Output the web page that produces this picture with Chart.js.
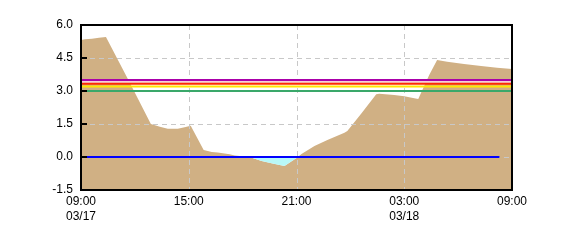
<!DOCTYPE html>
<html>
<head>
<meta charset="utf-8">
<script src="https://cdn.jsdelivr.net/npm/chart.js@4.4.1/dist/chart.umd.min.js"></script>
<style>
  html, body { margin: 0; padding: 0; background: #fff; }
  #wrap { width: 570px; height: 250px; }
</style>
</head>
<body>
<div id="wrap"><canvas id="myChart" width="570" height="250"></canvas></div>
<script>
// hours since 09:00 on 03/17
const hours = [0, 0.22, 0.61, 1.0, 1.39, 2.61, 3.89, 4.39, 4.83, 5.39, 5.83, 6.11, 6.83, 7.28, 7.61, 8.28, 8.56, 9.39, 10.06, 10.67, 11.33, 12.0, 12.28, 13.0, 13.72, 14.67, 14.83, 15.61, 16.44, 16.61, 17.44, 18.0, 18.56, 18.78, 19.39, 19.83, 20.39, 21.33, 22.28, 23.17, 24];
const levels = [5.32, 5.35, 5.37, 5.42, 5.45, 3.55, 1.5, 1.38, 1.28, 1.28, 1.36, 1.42, 0.32, 0.23, 0.2, 0.12, 0.07, 0.0, -0.18, -0.29, -0.41, -0.05, 0.14, 0.5, 0.77, 1.1, 1.18, 1.98, 2.85, 2.88, 2.82, 2.76, 2.67, 2.64, 3.73, 4.41, 4.33, 4.23, 4.14, 4.06, 4.0];

// warning levels (top to bottom)
const levelNames = ['purple', 'pink', 'red', 'yellow', 'green'];
const levelValues = [3.5, 3.41, 3.33, 3.2, 3.0];
const levelColors = ['#aa00aa', '#f2d2d6', '#ff2a00', '#ffe600', '#3aa86a'];

// reference (zero) line
const baseHours = [0, 23.3];
const baseValue = 0;

const xTickTimes = ['09:00', '15:00', '21:00', '03:00', '09:00'];
const xTickDates = ['03/17', '', '', '03/18', ''];
const yTicks = [-1.5, 0, 1.5, 3.0, 4.5, 6.0];

const series = hours.map((h, i) => ({ x: h, y: levels[i] }));

const datasets = [
  {
    label: 'level',
    data: series,
    borderWidth: 0,
    pointRadius: 0,
    fill: 'start',
    backgroundColor: '#d0b084',
    order: 20
  },
  {
    label: 'below zero',
    data: series,
    borderWidth: 0,
    pointRadius: 0,
    fill: { target: { value: 0 }, above: 'rgba(0,0,0,0)', below: '#b8f8f8' },
    order: 19,
    gridAfter: true
  }
];

levelNames.forEach((name, i) => {
  datasets.push({
    label: name,
    data: [{ x: 0, y: levelValues[i] }, { x: 24, y: levelValues[i] }],
    borderColor: levelColors[i],
    borderWidth: 2,
    pointRadius: 0,
    fill: false,
    order: 10 - i
  });
});

datasets.push({
  label: 'zero',
  data: baseHours.map(h => ({ x: h, y: baseValue })),
  borderColor: '#0000ff',
  borderWidth: 2,
  pointRadius: 0,
  fill: false,
  order: 0
});

// dashed grid on top of the area, under the level lines
const gridOverArea = {
  id: 'gridOverArea',
  afterDatasetDraw(chart, args) {
    if (!chart.data.datasets[args.index].gridAfter) return;
    const { ctx, chartArea: a, scales } = chart;
    ctx.save();
    ctx.strokeStyle = '#c8c8c8';
    ctx.lineWidth = 1;
    ctx.setLineDash([5, 4]);
    [6, 12, 18].forEach(h => {
      const x = Math.round(scales.x.getPixelForValue(h)) + 0.5;
      ctx.beginPath();
      ctx.moveTo(x, a.top);
      ctx.lineTo(x, a.bottom);
      ctx.stroke();
    });
    yTicks.slice(1, -1).forEach(v => {
      const y = Math.round(scales.y.getPixelForValue(v)) + 0.5;
      ctx.beginPath();
      ctx.moveTo(a.left, y);
      ctx.lineTo(a.right, y);
      ctx.stroke();
    });
    ctx.restore();
  }
};

// black frame and inner tick marks
const frame = {
  id: 'frame',
  afterDraw(chart) {
    const { ctx, chartArea: a, scales } = chart;
    ctx.save();
    ctx.strokeStyle = '#000';
    ctx.lineWidth = 2;
    ctx.setLineDash([]);
    ctx.strokeRect(a.left, a.top, a.right - a.left, a.bottom - a.top);
    yTicks.slice(1, -1).forEach(v => {
      const y = scales.y.getPixelForValue(v);
      ctx.beginPath();
      ctx.moveTo(a.left, y);
      ctx.lineTo(a.left + 6, y);
      ctx.stroke();
    });
    ctx.restore();
  }
};

Chart.defaults.font.family = '"Liberation Sans", Arial, sans-serif';
Chart.defaults.font.size = 11;
Chart.defaults.color = '#000';

new Chart(document.getElementById('myChart').getContext('2d'), {
  type: 'line',
  data: { datasets: datasets },
  options: {
    responsive: false,
    animation: false,
    layout: { padding: { left: 0, right: 58, top: 25, bottom: 0 } },
    plugins: {
      legend: { display: false },
      tooltip: { enabled: false }
    },
    scales: {
      x: {
        type: 'linear',
        min: 0,
        max: 24,
        grid: { display: false, drawTicks: false },
        border: { display: false },
        ticks: {
          stepSize: 6,
          padding: 4,
          maxRotation: 0,
          font: { size: 12, lineHeight: 1.25 },
          callback: (v) => {
            const i = v / 6;
            return xTickDates[i] ? [xTickTimes[i], xTickDates[i]] : xTickTimes[i];
          }
        },
        afterFit: (s) => { s.height = 60; }
      },
      y: {
        min: -1.5,
        max: 6,
        grid: { display: false, drawTicks: false },
        border: { display: false },
        ticks: {
          stepSize: 1.5,
          padding: 8,
          font: { size: 12 },
          callback: (v) => v.toFixed(1)
        },
        afterFit: (s) => { s.width = 81; }
      }
    }
  },
  plugins: [gridOverArea, frame]
});
</script>
</body>
</html>
